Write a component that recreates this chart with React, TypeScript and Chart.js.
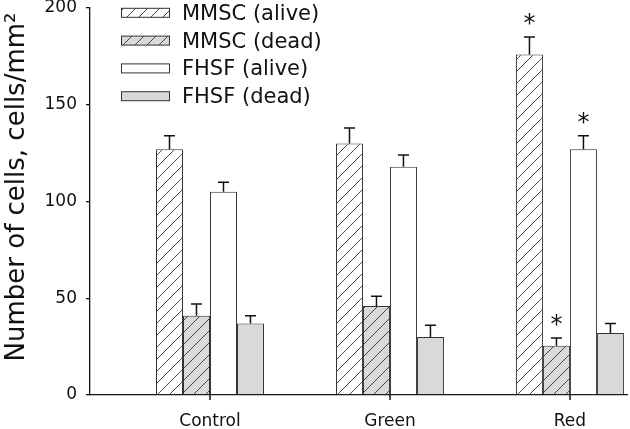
import React, { useEffect, useRef } from "react";
import { Chart, registerables } from "chart.js";

Chart.register(...registerables);

const categories = ["Control", "Green", "Red"];
const seriesNames = ["MMSC (alive)", "MMSC (dead)", "FHSF (alive)", "FHSF (dead)"];
const mmscAlive = [127, 130, 176];
const mmscDead = [41, 46, 25.5];
const fhsfAlive = [105, 118, 127];
const fhsfDead = [37, 30, 32];
const mmscAliveErr = [7, 8, 9];
const mmscDeadErr = [6, 5, 4];
const fhsfAliveErr = [5, 6, 7];
const fhsfDeadErr = [4, 6, 5];
const mmscAliveSig = [false, false, true];
const mmscDeadSig = [false, false, true];
const fhsfAliveSig = [false, false, true];
const fhsfDeadSig = [false, false, false];
const yTicks = [0, 50, 100, 150, 200];
const yTitle = "Number of cells, cells/mm²";

const FONT = "'DejaVu Sans', Verdana, sans-serif";

function makeHatch(bg: string) {
  const c = document.createElement("canvas");
  const s = 12;
  c.width = s;
  c.height = s;
  const g = c.getContext("2d")!;
  g.fillStyle = bg;
  g.fillRect(0, 0, s, s);
  g.strokeStyle = "#333";
  g.lineWidth = 0.9;
  g.beginPath();
  g.moveTo(-1, s + 1);
  g.lineTo(s + 1, -1);
  g.moveTo(-1, 1);
  g.lineTo(1, -1);
  g.moveTo(s - 1, s + 1);
  g.lineTo(s + 1, s - 1);
  g.stroke();
  return g.createPattern(c, "repeat")!;
}

export default function App() {
  const ref = useRef<HTMLCanvasElement>(null);

  useEffect(() => {
    document.body.style.margin = "0";
    const ctx = ref.current!.getContext("2d")!;
    const hatchWhite = makeHatch("#ffffff");
    const hatchGray = makeHatch("#d9d9d9");
    const values = [mmscAlive, mmscDead, fhsfAlive, fhsfDead];
    const errs = [mmscAliveErr, mmscDeadErr, fhsfAliveErr, fhsfDeadErr];
    const sigs = [mmscAliveSig, mmscDeadSig, fhsfAliveSig, fhsfDeadSig];
    const fills: any[] = [hatchWhite, hatchGray, "#ffffff", "#d9d9d9"];

    const datasets = values.map((vals, k) => ({
      label: seriesNames[k],
      data: vals.map((v, i) => ({ x: i, y: v })),
      backgroundColor: fills[k],
      borderColor: "#333",
      borderWidth: 1,
      categoryPercentage: 0.6,
      barPercentage: 1,
    }));

    const extras = {
      id: "extras",
      afterDraw(chart: any) {
        const c = chart.ctx;
        const y = chart.scales.y;
        const xs = chart.scales.x;
        const base = chart.chartArea.bottom;
        c.save();
        // x tick marks
        c.strokeStyle = "#111";
        c.lineWidth = 1.5;
        for (let i = 0; i < categories.length; i++) {
          const px = Math.round(xs.getPixelForValue(i));
          c.beginPath();
          c.moveTo(px, base);
          c.lineTo(px, base + 5);
          c.stroke();
        }
        // error bars + asterisks
        values.forEach((vals, k) => {
          const meta = chart.getDatasetMeta(k);
          vals.forEach((v, i) => {
            const bar = meta.data[i];
            const x = bar.x;
            const top = y.getPixelForValue(v);
            const et = y.getPixelForValue(v + errs[k][i]);
            c.strokeStyle = "#111";
            c.lineWidth = 1.5;
            c.beginPath();
            c.moveTo(x, top);
            c.lineTo(x, et);
            c.moveTo(x - 5.5, et);
            c.lineTo(x + 5.5, et);
            c.stroke();
            if (sigs[k][i]) {
              c.fillStyle = "#111";
              c.font = `24px ${FONT}`;
              c.textAlign = "center";
              c.textBaseline = "middle";
              c.fillText("*", x, et - 12);
            }
          });
        });
        // legend
        c.font = `21px ${FONT}`;
        c.textAlign = "left";
        c.textBaseline = "middle";
        seriesNames.forEach((name, k) => {
          const cy = 12.8 + k * 27.8;
          c.fillStyle = fills[k];
          c.fillRect(121, cy - 4.5, 48, 9);
          c.strokeStyle = "#333";
          c.lineWidth = 1;
          c.strokeRect(121.5, cy - 4.5, 48, 9);
          c.fillStyle = "#111";
          c.fillText(name, 182, cy + 1.5);
        });
        // y title
        c.save();
        c.translate(17, 187);
        c.rotate(-Math.PI / 2);
        c.font = `26px ${FONT}`;
        c.textAlign = "center";
        c.textBaseline = "middle";
        c.fillStyle = "#111";
        c.fillText(yTitle, 0, 0);
        c.restore();
        c.restore();
      },
    };

    const chart = new Chart(ctx, {
      type: "bar",
      data: { datasets },
      plugins: [extras],
      options: {
        animation: false,
        responsive: true,
        maintainAspectRatio: false,
        layout: { padding: { top: 0, right: 3, left: 0, bottom: 0 } },
        plugins: { legend: { display: false }, tooltip: { enabled: false } },
        scales: {
          x: {
            type: "linear",
            offset: false,
            min: -0.6667,
            max: 2.317,
            afterBuildTicks: (axis: any) => {
              axis.ticks = categories.map((_, i) => ({ value: i }));
            },
            afterFit: (axis: any) => {
              axis.height = 34;
            },
            ticks: {
              callback: (v: any) => categories[v] ?? "",
              font: { family: FONT, size: 17 },
              color: "#111",
              padding: 8,
              maxRotation: 0,
              autoSkip: false,
            },
            grid: { display: false, tickLength: 8 },
            border: { display: true, color: "#111", width: 1.3 },
          },
          y: {
            min: 0,
            max: 200,
            afterBuildTicks: (axis: any) => {
              axis.ticks = yTicks.map((v) => ({ value: v }));
            },
            afterFit: (axis: any) => {
              axis.width = 90;
              axis.paddingTop = 8;
              axis.paddingBottom = 8;
            },
            ticks: {
              font: { family: FONT, size: 17 },
              color: "#111",
              padding: 9,
            },
            grid: { drawOnChartArea: false, tickLength: 4, color: "#111", lineWidth: 1.3 },
            border: { color: "#111", width: 1.3 },
          },
        },
      },
    });
    return () => chart.destroy();
  }, []);

  return (
    <div style={{ position: "absolute", left: 0, top: 0, width: 630, height: 429 }}>
      <canvas ref={ref} />
    </div>
  );
}
